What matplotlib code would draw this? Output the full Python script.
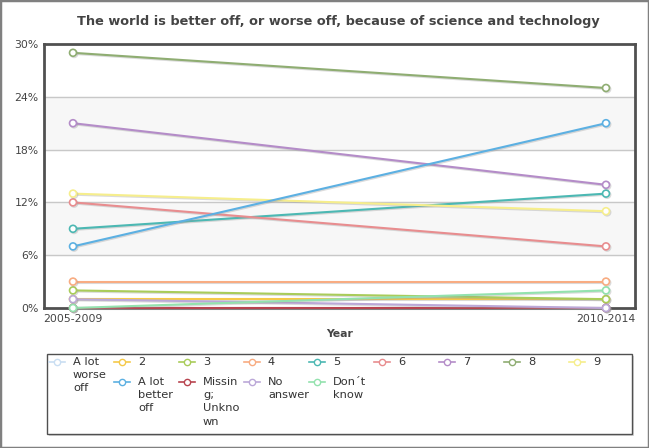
import matplotlib.pyplot as plt
import matplotlib.patheffects as pe
from matplotlib.patches import Rectangle
from matplotlib.lines import Line2D

# donnees (en %)
years = ["2005-2009", "2010-2014"]
labels = ["A lot worse off", "2", "3", "4", "5", "6", "7", "8", "9",
          "A lot better off", "Missing; Unknown", "No answer", "Don´t know"]
legend_text = ["A lot\nworse\noff", "2", "3", "4", "5", "6", "7", "8", "9",
               "A lot\nbetter\noff", "Missin\ng;\nUnkno\nwn", "No\nanswer", "Don´t\nknow"]
worse = [0, 0]
two = [1, 1]
three = [2, 1]
four = [3, 3]
five = [9, 13]
six = [12, 7]
seven = [21, 14]
eight = [29, 25]
nine = [13, 11]
better = [7, 21]
missing = [0, 0]
noanswer = [1, 0]
dontknow = [0, 2]
series = [worse, two, three, four, five, six, seven, eight, nine,
          better, missing, noanswer, dontknow]
colors = ["#c9def2", "#f5c94a", "#a9cc5a", "#f8ac82", "#4cb8b3", "#e88d8f",
          "#b48cc8", "#8fad72", "#f6ee8c", "#5cb0e2", "#b8444f", "#bba8d8",
          "#93e2ae"]
yticks = [0, 6, 12, 18, 24, 30]

W, H = 649, 448
fig = plt.figure(figsize=(W / 100, H / 100), dpi=100)

def fx(px):
    return px / W

def fy(py):
    return 1 - py / H

ax = fig.add_axes([fx(44), fy(308), fx(635) - fx(44), fy(44) - fy(308)])
ax.set_xlim(-0.0544, 1.0544)
ax.set_ylim(0, 30)

# bandes alternees
for lo in [6, 18]:
    ax.axhspan(lo, lo + 6, color="#f7f7f7", zorder=0)
for t in yticks[1:-1]:
    ax.axhline(t, color="#c8c8c8", lw=1, zorder=1)

shadow = [pe.SimpleLineShadow(offset=(0.8, -0.8), shadow_color="#999999", alpha=0.35),
          pe.Normal()]
xs = list(range(len(years)))
for vals, c in zip(series, colors):
    ax.plot(xs, vals, color=c, lw=1.5, marker="o", markersize=5,
            markerfacecolor="white", markeredgecolor=c, markeredgewidth=1.2,
            path_effects=shadow, zorder=3, clip_on=False)

ax.set_xticks(xs)
ax.set_xticklabels(years, fontsize=7.8, color="#444444")
ax.set_yticks(yticks)
ax.set_yticklabels([f"{t}%" for t in yticks], fontsize=7.8, color="#444444")
ax.tick_params(length=0, pad=4)
ax.set_xlabel("Year", fontsize=7.8, fontweight="bold", color="#444444", labelpad=4)
for s in ax.spines.values():
    s.set_color("#505050")
    s.set_linewidth(2)

fig.text(fx(338), fy(22), "The world is better off, or worse off, because of science and technology",
         ha="center", va="center", fontsize=9.3, fontweight="bold", color="#444444")

# legende faite a la main
fig.patches.append(Rectangle((fx(49), fy(436)), fx(634) - fx(49), fy(354) - fy(434),
                             transform=fig.transFigure, facecolor="#bbbbbb",
                             edgecolor="none", alpha=0.6, zorder=0))
fig.patches.append(Rectangle((fx(47), fy(434)), fx(632) - fx(47), fy(354) - fy(434),
                             transform=fig.transFigure, facecolor="white",
                             edgecolor="#505050", lw=1, zorder=1))
for i, (txt, c) in enumerate(zip(legend_text, colors)):
    if i < 9:
        col, ty = i, 362
    else:
        col, ty = i - 8, 382
    mx = 57 + 65 * col
    fig.lines.append(Line2D([fx(mx - 8), fx(mx + 8)], [fy(ty), fy(ty)],
                            transform=fig.transFigure, color=c, lw=1.2, zorder=2))
    fig.lines.append(Line2D([fx(mx)], [fy(ty)], transform=fig.transFigure, color=c,
                            marker="o", markersize=4.5, markerfacecolor="white",
                            markeredgecolor=c, markeredgewidth=1, zorder=3))
    fig.text(fx(mx + 16), fy(ty - 5), txt, ha="left", va="top", fontsize=8.2,
             color="#333333", linespacing=1.4, zorder=3)

# cadre exterieur
fig.patches.append(Rectangle((0, 0), 1, 1, transform=fig.transFigure, facecolor="none",
                             edgecolor="#808080", lw=2.5, zorder=5))

fig.savefig("out.png", dpi=100)
